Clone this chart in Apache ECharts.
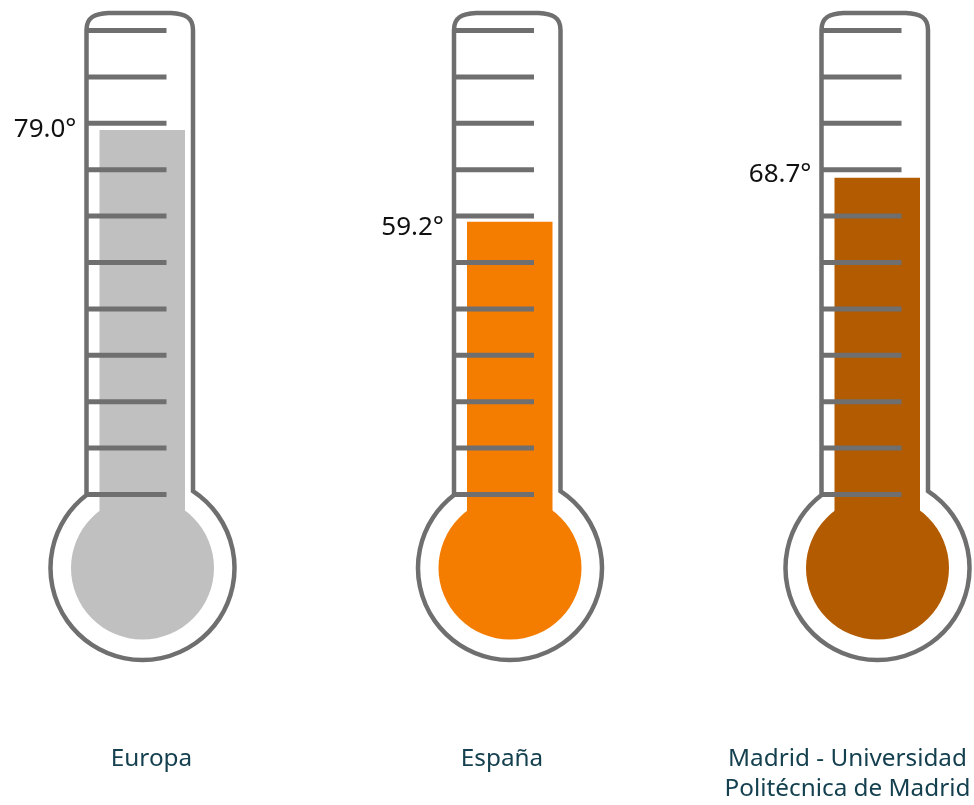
<!DOCTYPE html>
<html>
<head>
<meta charset="utf-8">
<script src="https://cdn.jsdelivr.net/npm/echarts@6/dist/echarts.min.js"></script>
<style>
html,body{margin:0;padding:0;background:#fff;}
#chart{width:974px;height:805px;}
</style>
</head>
<body>
<div id="chart"></div>
<script>
// ---- data ----
const categories = ['Europa', 'España', 'Madrid - Universidad\nPolitécnica de Madrid'];
const values = [79.0, 59.2, 68.7];
const tickValues = [0, 10, 20, 30, 40, 50, 60, 70, 80, 90, 100];

// ---- style ----
const fillColors = ['#c0c0c0', '#f47d00', '#b35b00'];
const outlineColor = '#6f6f6f';
const labelDx = [9, -8, -30];
const valueLabelDy = [-0.5, 6, -3.5];
const FONT = '"Noto Sans", "Open Sans", sans-serif';

const chart = echarts.init(document.getElementById('chart'), null, {renderer: 'canvas'});

function renderItem(params, api) {
  const i = api.value(0);
  const v = api.value(1);
  const p0 = api.coord([i, 0]);
  const p100 = api.coord([i, 100]);
  const pv = api.coord([i, v]);
  const cx = p0[0];
  const y0 = p0[1];
  const yTop = p100[1] - 19.5;
  const cy = y0 + 71.5;
  const R = 92;
  const L = cx - 56, Rx = cx + 50.5;
  const jyL = cy - Math.sqrt(R * R - (cx - L) * (cx - L));
  const jyR = cy - Math.sqrt(R * R - (Rx - cx) * (Rx - cx));
  const path = 'M' + L + ',' + jyL +
    ' L' + L + ',' + (yTop + 17) +
    ' C' + L + ',' + (yTop + 4) + ' ' + (L + 8) + ',' + (yTop + 1) + ' ' + (L + 22) + ',' + yTop +
    ' L' + (Rx - 22) + ',' + yTop +
    ' C' + (Rx - 8) + ',' + (yTop + 1) + ' ' + Rx + ',' + (yTop + 4) + ' ' + Rx + ',' + (yTop + 17) +
    ' L' + Rx + ',' + jyR +
    ' A' + R + ' ' + R + ' 0 1 1 ' + L + ',' + jyL + ' Z';

  const children = [];
  // fill bar
  children.push({
    type: 'rect',
    shape: {x: cx - 43, y: pv[1], width: 85.5, height: cy - pv[1]},
    style: {fill: fillColors[i]}
  });
  children.push({
    type: 'circle',
    shape: {cx: cx, cy: cy, r: 71.5},
    style: {fill: fillColors[i]}
  });
  // ticks
  tickValues.forEach(function (t) {
    const y = api.coord([i, t])[1] - 2;
    children.push({
      type: 'line',
      shape: {x1: L, y1: y, x2: cx + 24, y2: y},
      style: {stroke: outlineColor, lineWidth: 5}
    });
  });
  // outline
  children.push({
    type: 'path',
    shape: {pathData: path},
    style: {fill: null, stroke: outlineColor, lineWidth: 4.5}
  });
  // value label
  children.push({
    type: 'text',
    style: {
      text: v.toFixed(1) + '°',
      x: cx - 66, y: pv[1] + valueLabelDy[i],
      align: 'right', verticalAlign: 'middle',
      font: '26px ' + FONT, fill: '#111111'
    }
  });
  // category label
  children.push({
    type: 'text',
    style: {
      text: categories[i],
      x: cx + labelDx[i], y: 744,
      align: 'center', verticalAlign: 'top',
      lineHeight: 30,
      font: '24.3px ' + FONT, fill: '#14404f'
    }
  });
  return {type: 'group', children: children};
}

chart.setOption({
  animation: false,
  grid: {left: 0, right: 0, top: 32.5, bottom: 308.5},
  xAxis: {type: 'value', min: -142.5 / 367.5, max: (974 - 142.5) / 367.5, show: false},
  yAxis: {type: 'value', min: 0, max: 100, show: false},
  series: [{
    type: 'custom',
    clip: false,
    renderItem: renderItem,
    data: values.map(function (v, i) { return [i, v]; })
  }]
});
</script>
</body>
</html>
